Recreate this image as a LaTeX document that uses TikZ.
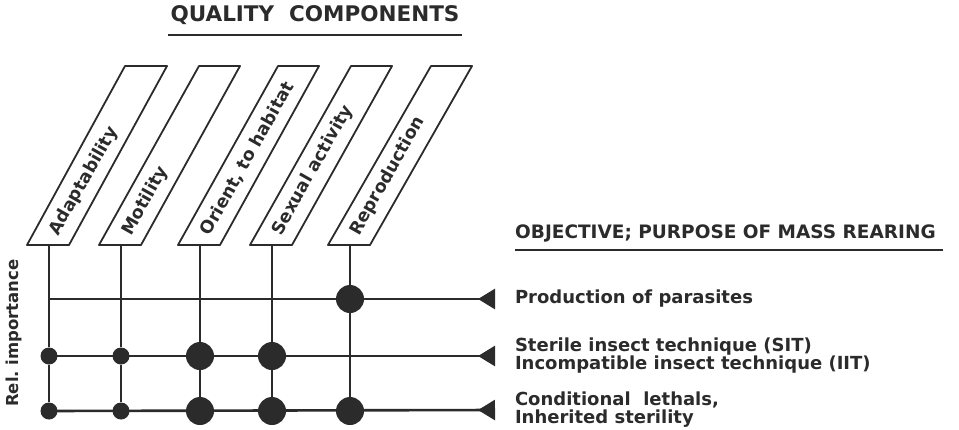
\documentclass[tikz,border=0pt]{standalone}
\usepackage{fontspec}
\setmainfont{DejaVu Sans}
\usetikzlibrary{arrows.meta}
\definecolor{ink}{HTML}{2B2B2B}
\begin{document}
\begin{tikzpicture}[x=1pt,y=-1pt,%
% common options for the slanted boxes:
compbox/.style = {draw=ink, line width=1.8pt, line join=round},
% text written along a box:
complabel/.style = {rotate=60.5, anchor=west, inner sep=0, text=ink,
            font=\bfseries\fontsize{17.5}{17.5}\selectfont},
% small and large dots:
smalldot/.style = {circle, fill=ink, minimum size=17pt, inner sep=0},
largedot/.style = {circle, fill=ink, minimum size=28pt, inner sep=0},
% the objectives on the right:
goal/.style = {align=left, anchor=west, inner sep=0, outer xsep=20pt, text=ink,
            font=\bfseries\fontsize{18}{18}\selectfont},
heading/.style = {inner sep=0, text=ink, font=\bfseries\fontsize{21.5}{21.5}\selectfont},
grid/.style = {draw=ink, line width=2.6pt},
link/.style = {draw=ink, line width=2.6pt, -{Triangle[reversed,length=17pt,width=20pt]}}]
\useasboundingbox (0,0) rectangle (959,429);
% headings
\node[heading] (qc) at (315,15) {QUALITY\ \ COMPONENTS};
\draw[ink, line width=1.8pt] (168,35) -- (462,35);
\node[heading, anchor=west, font=\bfseries\fontsize{18.5}{18.5}\selectfont] (obj) at (515,233) {OBJECTIVE;\ PURPOSE\ OF\ MASS\ REARING};
\draw[ink, line width=1.8pt] (515,250) -- (943,250);
\node[heading, rotate=90, font=\bfseries\fontsize{16.5}{16.5}\selectfont] (rel) at (14,333) {Rel.\ importance};
% slanted boxes
\draw[compbox] (27,245) -- (69,245) -- (167,66) -- (125,66) -- cycle;
\draw[compbox] (99,245) -- (141,245) -- (240,66) -- (199,66) -- cycle;
\draw[compbox] (178,245) -- (220,245) -- (319,66) -- (278,66) -- cycle;
\draw[compbox] (250,245) -- (292,245) -- (392,66) -- (351,66) -- cycle;
\draw[compbox] (328,245) -- (370,245) -- (472,66) -- (431,66) -- cycle;
\node[complabel] (C1) at (54,234) {Adaptability};
\node[complabel] (C2) at (127,234) {Motility};
\node[complabel] (C3) at (205,234) {Orient,\ to\ habitat};
\node[complabel] (C4) at (277,234) {Sexual\ activity};
\node[complabel] (C5) at (355,234) {Reproduction};
\coordinate (T1) at (49,245);
\coordinate (T2) at (121,245);
\coordinate (T3) at (200,245);
\coordinate (T4) at (272,245);
\coordinate (T5) at (350,245);
% objectives
\node[goal] (G1) at (495,299) {Production\ of\ parasites};
\node[goal] (G2) at (495,356) {Sterile\ insect\ technique\ (SIT)\\Incompatible\ insect\ technique\ (IIT)};
\node[goal] (G3) at (495,410) {Conditional\ \ lethals,\\Inherited\ sterility};
% crossings
\coordinate (A1) at (49,299);
\node[smalldot] (A2) at (49,356) {};
\node[smalldot] (A3) at (49,411) {};
\node[smalldot] (B2) at (121,356) {};
\node[smalldot] (B3) at (121,411) {};
\node[largedot] (D2) at (200,356) {};
\node[largedot] (D3) at (200,411) {};
\node[largedot] (E2) at (272,356) {};
\node[largedot] (E3) at (272,411) {};
\node[largedot] (F1) at (350,299) {};
\node[largedot] (F3) at (350,411) {};
\draw[grid] (T1) -- (A1) -- (A2) -- (A3);
\draw[grid] (T2) -- (B2) -- (B3);
\draw[grid] (T3) -- (D2) -- (D3);
\draw[grid] (T4) -- (E2) -- (E3);
\draw[grid] (T5) -- (F1) -- (F3);
\draw[link] (A1) -- (G1.west);
\draw[link] (A2.center) -- (G2.west);
\draw[link] (A3.center) -- (G3.west);
\end{tikzpicture}
\end{document}
